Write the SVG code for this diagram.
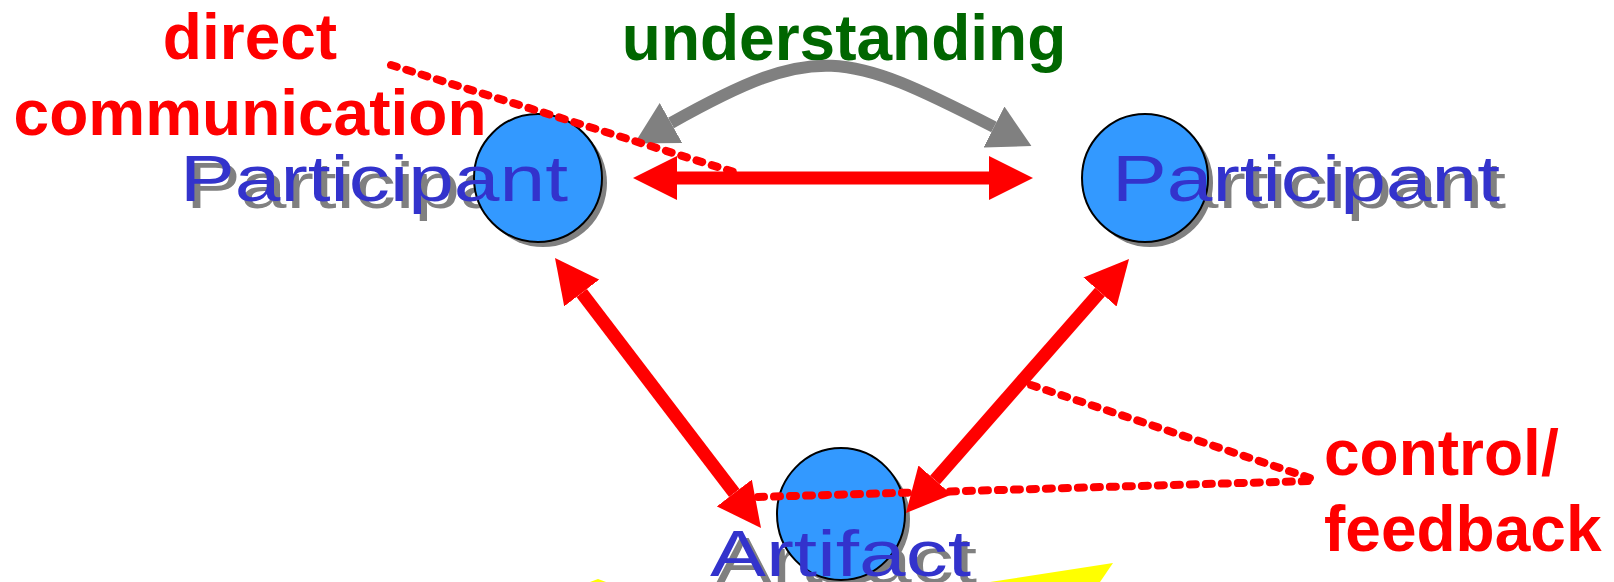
<svg xmlns="http://www.w3.org/2000/svg" width="1614" height="582" viewBox="0 0 1614 582">
<style>
.lbl{font-family:"Liberation Sans",Arial,sans-serif;font-weight:bold;font-size:64px}
.red{fill:#ff0000}
.green{fill:#006600}
.nt{font-family:"Liberation Sans",Arial,sans-serif;font-size:65px}
.nblue{fill:#3333cc}
.nshadow{fill:#808080}
.cshadow{fill:#808080}
.circ{fill:#3399ff;stroke:#000;stroke-width:2}
.arrow{fill:none;stroke:#ff0000;stroke-width:13;marker-start:url(#redhead);marker-end:url(#redhead)}
.garrow{fill:none;stroke:#808080;stroke-width:12;marker-start:url(#grayhead);marker-end:url(#grayhead)}
.dash{fill:none;stroke:#ff0000;stroke-width:8;stroke-linecap:round;stroke-dasharray:6 10}
</style>
<defs>
<marker id="redhead" markerUnits="userSpaceOnUse" markerWidth="44" markerHeight="44" viewBox="0 0 44 44" refX="0" refY="22" orient="auto-start-reverse">
<path d="M0,0 L44,22 L0,44 Z" fill="#ff0000"/>
</marker>
<marker id="grayhead" markerUnits="userSpaceOnUse" markerWidth="42" markerHeight="46" viewBox="0 0 42 46" refX="0" refY="23" orient="auto-start-reverse">
<path d="M0,0 L42,23 L0,46 Z" fill="#808080"/>
</marker>
</defs>
<rect width="1614" height="582" fill="#ffffff"/>
<g id="yellow">
<polygon points="990,582 1113,563 1100,582" fill="#ffff00"/>
<polygon points="590,582 598,579 606,582" fill="#ffff00"/>
</g>
<g id="participant-left">
<text class="nt nshadow" x="186" y="208" textLength="388" lengthAdjust="spacingAndGlyphs">Participant</text>
<ellipse class="cshadow" cx="543" cy="183" rx="64" ry="64"/>
<ellipse class="circ" cx="538" cy="178" rx="64" ry="64"/>
<text class="nt nblue" x="180" y="201" textLength="388" lengthAdjust="spacingAndGlyphs">Participant</text>
</g>
<g id="participant-right">
<text class="nt nshadow" x="1118" y="208" textLength="388" lengthAdjust="spacingAndGlyphs">Participant</text>
<ellipse class="cshadow" cx="1150" cy="183" rx="63" ry="64"/>
<ellipse class="circ" cx="1145" cy="178" rx="63" ry="64"/>
<text class="nt nblue" x="1112" y="201" textLength="388" lengthAdjust="spacingAndGlyphs">Participant</text>
</g>
<g id="artifact">
<text class="nt nshadow" x="716" y="583" textLength="261" lengthAdjust="spacingAndGlyphs">Artifact</text>
<ellipse class="cshadow" cx="846" cy="519" rx="64" ry="66"/>
<ellipse class="circ" cx="841" cy="514" rx="64" ry="66"/>
<text class="nt nblue" x="710" y="576" textLength="261" lengthAdjust="spacingAndGlyphs">Artifact</text>
</g>
<g id="labels">
<text class="lbl red" x="250" y="59" text-anchor="middle">direct</text>
<text class="lbl red" x="250" y="135" text-anchor="middle">communication</text>
<text class="lbl green" x="844" y="60" text-anchor="middle">understanding</text>
<text class="lbl red" x="1324" y="475">control/</text>
<text class="lbl red" x="1324" y="551">feedback</text>
</g>
<g id="connectors">
<path class="garrow" d="M671,123 C817,41 845,51 994,127"/>
<path class="arrow" d="M677,178 H989"/>
<path class="arrow" d="M581.7,293 L734.3,493"/>
<path class="arrow" d="M1100,292 L935,480"/>
<path class="dash" d="M391,65 L737,173"/>
<path class="dash" d="M1031,385 L1313,479"/>
<path class="dash" d="M758,497 L1311,481"/>
</g>
</svg>
